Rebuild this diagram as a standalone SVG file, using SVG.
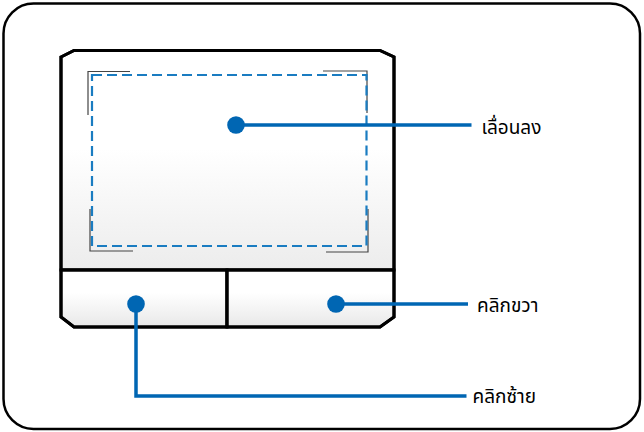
<svg xmlns="http://www.w3.org/2000/svg" width="644" height="432" viewBox="0 0 644 432">
<style>
.frame{fill:#fff;stroke:#000;stroke-width:2.5}
.pad{stroke:#000;stroke-width:3;stroke-linejoin:miter}
.div{stroke:#000;stroke-width:3;fill:none}
.dash{fill:none;stroke:#1a7cc1;stroke-width:2.2;stroke-dasharray:10,5}
.brk{fill:none;stroke:#444;stroke-width:1.2}
.lead{fill:none;stroke:#0066b3;stroke-width:3.5}
.dot{fill:#0066b3}
.lbl{font-family:"Noto Sans Thai","Noto Sans","DejaVu Sans",sans-serif;font-size:19px;fill:#000}
</style>
<defs>
<linearGradient id="gTop" x1="0" y1="0" x2="0" y2="1">
<stop offset="0" stop-color="#ffffff"/>
<stop offset="0.45" stop-color="#ffffff"/>
<stop offset="1" stop-color="#ececec"/>
</linearGradient>
<linearGradient id="gBtn" x1="0" y1="0" x2="0" y2="1">
<stop offset="0" stop-color="#ffffff"/>
<stop offset="0.4" stop-color="#ffffff"/>
<stop offset="1" stop-color="#e8e8e8"/>
</linearGradient>
</defs>
<rect class="frame" x="3.5" y="3.5" width="636.5" height="425.5" rx="30" ry="30"/>
<g id="touchpad">
<path class="pad" fill="url(#gTop)" d="M61,57 L74,50.5 L380,50.5 L394,57 L394,270 L61,270 Z"/>
<path class="pad" fill="url(#gBtn)" d="M61,270 L227,270 L227,327 L74,327 L61,317 Z"/>
<path class="pad" fill="url(#gBtn)" d="M227,270 L394,270 L394,317 L380,327 L227,327 Z"/>
<path class="div" d="M61,57 L74,50.5 L380,50.5 L394,57 L394,317 L380,327 L74,327 L61,317 Z"/>
<line class="div" x1="61" y1="270" x2="394" y2="270"/>
<line class="div" x1="227" y1="270" x2="227" y2="327"/>
</g>
<g id="scroll-area">
<polyline class="brk" points="88,115 88,71.5 130,71.5"/>
<polyline class="brk" points="323,71 367,71 367,113"/>
<polyline class="brk" points="90,209 90,251 133,251"/>
<polyline class="brk" points="326,252 368,252 368,209"/>
<rect class="dash" x="92" y="75" width="274.5" height="171"/>
</g>
<g id="connectors">
<line class="lead" x1="236" y1="125" x2="471.5" y2="125"/>
<line class="lead" x1="336" y1="304" x2="468" y2="304"/>
<polyline class="lead" points="136,304 136,396 466.5,396"/>
</g>
<g id="dot-scroll"><circle class="dot" cx="236" cy="125" r="8.8"/></g>
<g id="dot-right"><circle class="dot" cx="336" cy="304" r="8.8"/></g>
<g id="dot-left"><circle class="dot" cx="136" cy="304" r="8.8"/></g>
<g id="label-scroll"><text class="lbl" x="481.5" y="134">เลื่อนลง</text></g>
<g id="label-right"><text class="lbl" x="477" y="311.5">คลิกขวา</text></g>
<g id="label-left"><text class="lbl" x="472.5" y="403">คลิกซ้าย</text></g>
</svg>
